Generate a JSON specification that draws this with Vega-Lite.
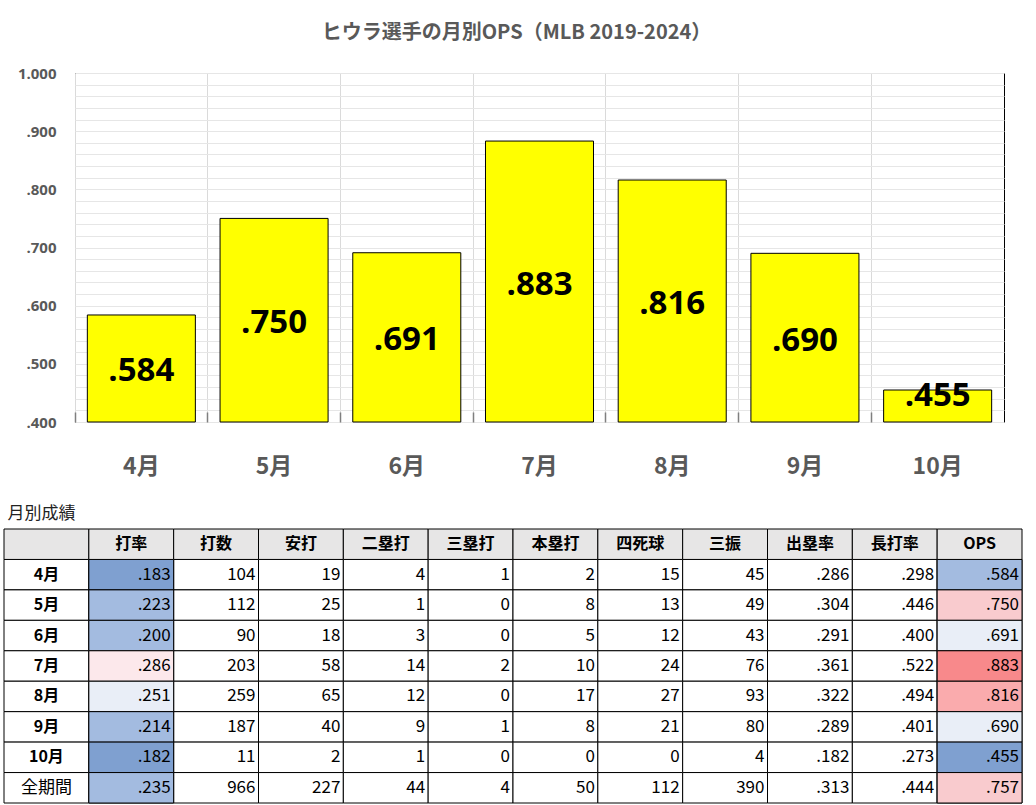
{
  "$schema": "https://vega.github.io/schema/vega-lite/v6.json",
  "padding": {"left": 3, "top": 22, "right": 0, "bottom": 0},
  "background": "white",
  "datasets": {
    "stats": [
      {"label": "4月", "打率": 0.183, "打数": 104, "安打": 19, "二塁打": 4, "三塁打": 1, "本塁打": 2, "四死球": 15, "三振": 45, "出塁率": 0.286, "長打率": 0.298, "OPS": 0.584},
      {"label": "5月", "打率": 0.223, "打数": 112, "安打": 25, "二塁打": 1, "三塁打": 0, "本塁打": 8, "四死球": 13, "三振": 49, "出塁率": 0.304, "長打率": 0.446, "OPS": 0.750},
      {"label": "6月", "打率": 0.200, "打数": 90, "安打": 18, "二塁打": 3, "三塁打": 0, "本塁打": 5, "四死球": 12, "三振": 43, "出塁率": 0.291, "長打率": 0.400, "OPS": 0.691},
      {"label": "7月", "打率": 0.286, "打数": 203, "安打": 58, "二塁打": 14, "三塁打": 2, "本塁打": 10, "四死球": 24, "三振": 76, "出塁率": 0.361, "長打率": 0.522, "OPS": 0.883},
      {"label": "8月", "打率": 0.251, "打数": 259, "安打": 65, "二塁打": 12, "三塁打": 0, "本塁打": 17, "四死球": 27, "三振": 93, "出塁率": 0.322, "長打率": 0.494, "OPS": 0.816},
      {"label": "9月", "打率": 0.214, "打数": 187, "安打": 40, "二塁打": 9, "三塁打": 1, "本塁打": 8, "四死球": 21, "三振": 80, "出塁率": 0.289, "長打率": 0.401, "OPS": 0.690},
      {"label": "10月", "打率": 0.182, "打数": 11, "安打": 2, "二塁打": 1, "三塁打": 0, "本塁打": 0, "四死球": 0, "三振": 4, "出塁率": 0.182, "長打率": 0.273, "OPS": 0.455},
      {"label": "全期間", "打率": 0.235, "打数": 966, "安打": 227, "二塁打": 44, "三塁打": 4, "本塁打": 50, "四死球": 112, "三振": 390, "出塁率": 0.313, "長打率": 0.444, "OPS": 0.757}
    ]
  },
  "columns": 1,
  "spacing": 25,
  "concat": [
    {
      "width": 929,
      "height": 349,
      "data": {"name": "stats"},
      "transform": [
        {"filter": "datum.label !== '全期間'"},
        {"calculate": "max((datum.OPS + 0.4) / 2, 0.45)", "as": "pos"},
        {"calculate": "replace(format(datum.OPS, '.3f'), '0.', '.')", "as": "txt"}
      ],
      "title": {
        "text": "ヒウラ選手の月別OPS（MLB 2019-2024）",
        "font": "Noto Sans CJK JP",
        "fontSize": 20,
        "fontWeight": "bold",
        "color": "#595959",
        "anchor": "middle",
        "offset": 23,
        "dx": -23
      },
      "view": {"stroke": "#000000", "strokeWidth": 1},
      "encoding": {
        "x": {
          "field": "label",
          "type": "nominal",
          "sort": null,
          "scale": {"paddingInner": 0, "paddingOuter": 0},
          "axis": {
            "title": null,
            "bandPosition": 0,
            "grid": true,
            "gridColor": "#DADADA",
            "gridWidth": 1,
            "ticks": true,
            "tickSize": -10,
            "tickColor": "#7F7F7F",
            "tickWidth": 1.5,
            "domain": false,
            "labelAngle": 0,
            "labelFont": "Noto Sans CJK JP",
            "labelFontWeight": "bold",
            "labelFontSize": 23,
            "labelColor": "#595959",
            "labelPadding": 43,
            "labelOffset": 0
          }
        }
      },
      "layer": [
        {
          "mark": {"type": "bar", "width": {"band": 0.814}, "color": "#FFFF00", "stroke": "#000000", "strokeWidth": 1},
          "encoding": {
            "y": {
              "field": "OPS",
              "type": "quantitative",
              "scale": {"domain": [0.4, 1.0], "nice": false, "zero": false},
              "axis": {
                "title": null,
                "tickCount": 30,
                "grid": true,
                "gridColor": "#E6E6E6",
                "gridWidth": 1,
                "ticks": false,
                "domain": false,
                "labelOverlap": false,
                "labelExpr": "abs(datum.value * 10 - round(datum.value * 10)) < 0.001 ? (datum.value > 0.999 ? '1.000' : replace(format(datum.value, '.3f'), '0.', '.')) : ''",
                "labelFont": "Open Sans",
                "labelFontWeight": "bold",
                "labelFontSize": 15,
                "labelColor": "#595959",
                "labelPadding": 19,
                "minExtent": 71
              }
            },
            "y2": {"datum": 0.4}
          }
        },
        {
          "mark": {"type": "text", "font": "Open Sans", "fontWeight": "bold", "fontSize": 33, "color": "#000000", "baseline": "middle", "align": "center", "dy": 3},
          "encoding": {
            "y": {
              "field": "pos",
              "type": "quantitative",
              "axis": {
                "title": null,
                "tickCount": 30,
                "grid": true,
                "gridColor": "#E6E6E6",
                "gridWidth": 1,
                "ticks": false,
                "domain": false,
                "labelOverlap": false,
                "labelExpr": "abs(datum.value * 10 - round(datum.value * 10)) < 0.001 ? (datum.value > 0.999 ? '1.000' : replace(format(datum.value, '.3f'), '0.', '.')) : ''",
                "labelFont": "Open Sans",
                "labelFontWeight": "bold",
                "labelFontSize": 15,
                "labelColor": "#595959",
                "labelPadding": 19,
                "minExtent": 71
              }
            },
            "text": {"field": "txt"}
          }
        }
      ]
    },
    {
      "width": 929,
      "height": 274,
      "data": {"name": "stats"},
      "view": {"stroke": null},
      "title": {
        "text": "月別成績",
        "font": "Noto Sans CJK JP",
        "fontSize": 17,
        "fontWeight": "normal",
        "color": "#222222",
        "anchor": "start",
        "offset": 6,
        "dx": 4
      },
      "transform": [
        {"fold": ["label", "打率", "打数", "安打", "二塁打", "三塁打", "本塁打", "四死球", "三振", "出塁率", "長打率", "OPS"]}
      ],
      "encoding": {
        "x": {
          "field": "key",
          "type": "nominal",
          "scale": {"domain": ["label", "打率", "打数", "安打", "二塁打", "三塁打", "本塁打", "四死球", "三振", "出塁率", "長打率", "OPS"], "range": [-71, 947], "paddingInner": 0, "paddingOuter": 0},
          "axis": null
        },
        "y": {
          "field": "label",
          "type": "nominal",
          "scale": {"domain": ["header", "4月", "5月", "6月", "7月", "8月", "9月", "10月", "全期間"], "paddingInner": 0, "paddingOuter": 0},
          "axis": null
        }
      },
      "layer": [
        {
          "mark": {"type": "rect", "fill": "#FFFFFF", "stroke": "#000000", "strokeWidth": 1}
        },
        {
          "transform": [{"filter": "datum.key === '打率'"}],
          "mark": {"type": "rect", "stroke": "#000000", "strokeWidth": 1},
          "encoding": {
            "color": {
              "field": "value",
              "type": "quantitative",
              "scale": {"type": "threshold", "domain": [0.19, 0.24, 0.26], "range": ["#7FA0D0", "#A3BBE0", "#E9EEF7", "#FCE8EB"]},
              "legend": null
            }
          }
        },
        {
          "transform": [{"filter": "datum.key === 'OPS'"}],
          "mark": {"type": "rect", "stroke": "#000000", "strokeWidth": 1},
          "encoding": {
            "fill": {
              "field": "value",
              "type": "quantitative",
              "scale": {"type": "threshold", "domain": [0.5, 0.65, 0.72, 0.78, 0.85], "range": ["#7FA0D0", "#A3BBE0", "#E9EEF7", "#F9CBCE", "#FAABAD", "#F8898B"]},
              "legend": null
            }
          }
        },
        {
          "transform": [
            {"aggregate": [{"op": "count", "as": "n"}], "groupby": ["key"]},
            {"calculate": "datum.key === 'label' ? '' : datum.key", "as": "head"}
          ],
          "layer": [
            {
              "mark": {"type": "rect", "fill": "#E7E6E6", "stroke": "#000000", "strokeWidth": 1},
              "encoding": {"y": {"datum": "header"}}
            },
            {
              "mark": {"type": "text", "font": "Noto Sans CJK JP", "fontWeight": "bold", "fontSize": 16, "color": "#000000", "align": "center", "baseline": "middle"},
              "encoding": {"y": {"datum": "header"}, "text": {"field": "head"}}
            }
          ]
        },
        {
          "transform": [{"filter": "datum.key === 'label' && datum.label !== '全期間'"}],
          "mark": {"type": "text", "font": "Noto Sans CJK JP", "fontWeight": "bold", "fontSize": 16, "color": "#000000", "align": "center", "baseline": "middle"},
          "encoding": {"text": {"field": "value"}}
        },
        {
          "transform": [{"filter": "datum.key === 'label' && datum.label === '全期間'"}],
          "mark": {"type": "text", "font": "Noto Sans CJK JP", "fontWeight": "normal", "fontSize": 17, "color": "#000000", "align": "center", "baseline": "middle"},
          "encoding": {"text": {"field": "value"}}
        },
        {
          "transform": [
            {"filter": "datum.key !== 'label'"},
            {"calculate": "indexof(['打率', '出塁率', '長打率', 'OPS'], datum.key) >= 0 ? replace(format(datum.value, '.3f'), '0.', '.') : format(datum.value, 'd')", "as": "txt"}
          ],
          "mark": {"type": "text", "font": "Noto Sans CJK JP", "fontWeight": "normal", "fontSize": 17, "color": "#000000", "align": "right", "baseline": "middle", "dx": -3},
          "encoding": {
            "x": {"field": "key", "type": "nominal", "bandPosition": 1},
            "text": {"field": "txt"}
          }
        }
      ]
    }
  ]
}
